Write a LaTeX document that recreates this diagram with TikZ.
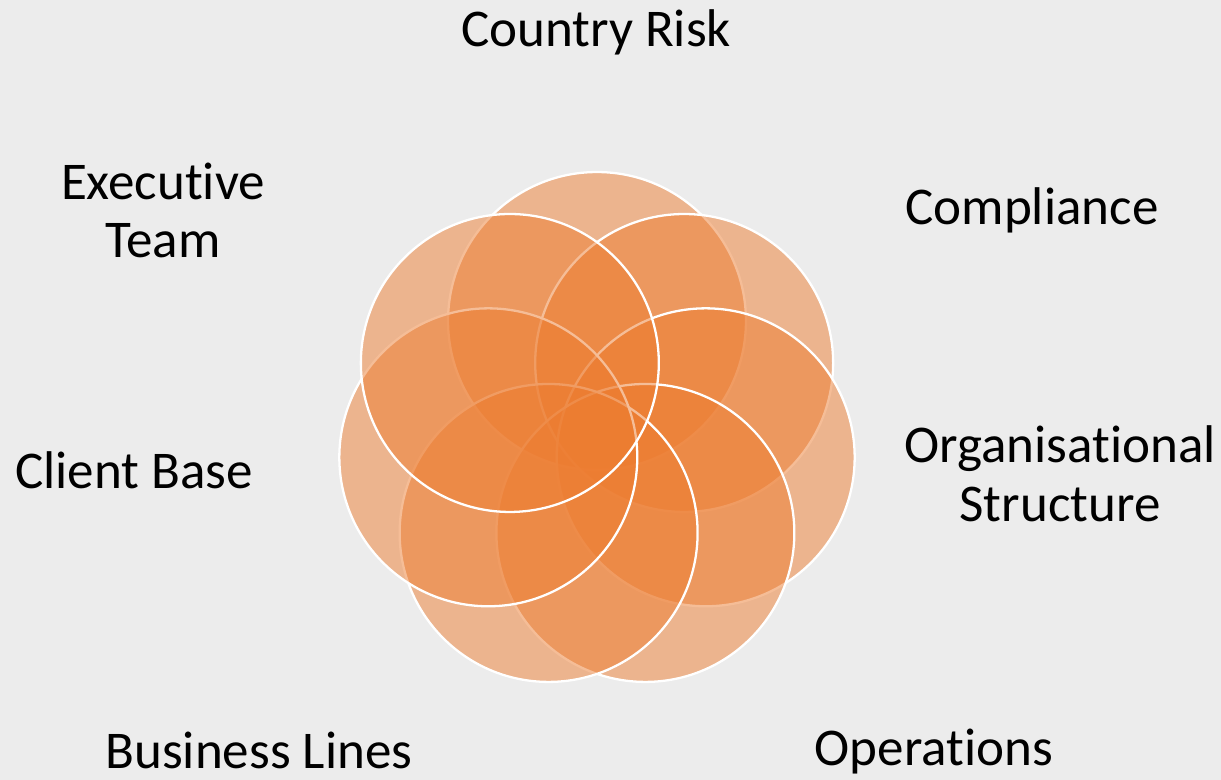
\documentclass[tikz,border=0pt]{standalone}
\usepackage{fontspec}
\setmainfont{Carlito}[RawFeature={-liga;-clig;-calt}]
\usetikzlibrary{calc}
\definecolor{bggray}{HTML}{ECECEC}
\definecolor{accentorange}{HTML}{ED7D31}
\tikzset{
    petal/.style={circle, minimum size=5.96cm, inner sep=0pt, outer sep=0pt,
        fill=accentorange, fill opacity=0.5, draw=white, draw opacity=1, line width=1.3pt},
    risklabel/.style={anchor=base, align=center, inner sep=0pt,
        font=\fontsize{30.2}{33.4}\selectfont}
}
\begin{document}
\begin{tikzpicture}[x=0.02cm, y=-0.02cm]
        \fill[bggray] (0,0) rectangle (1221,780);
        \useasboundingbox (0,0) rectangle (1221,780);
        % seven overlapping circles, clockwise from the top one
        \foreach \k in {0,...,6}{
            \pgfmathsetmacro{\ang}{-90+\k*360/7}
            \node[petal] (petal\k) at ($(597,432.5)+(\ang:111.5)$) {};
        }
        % base of a two-line label is its last line
        \node[risklabel] (country) at (596,47) {Country Risk};
        \node[risklabel] (compliance) at (1032,225) {Compliance};
        \node[risklabel] (organisation) at (1060,521) {Organisational\\Structure};
        \node[risklabel] (operations) at (934,765) {Operations};
        \node[risklabel] (business) at (259,768) {Business Lines};
        \node[risklabel] (client) at (134,489) {Client Base};
        \node[risklabel] (executive) at (163,258) {Executive\\Team};
\end{tikzpicture}
\end{document}
